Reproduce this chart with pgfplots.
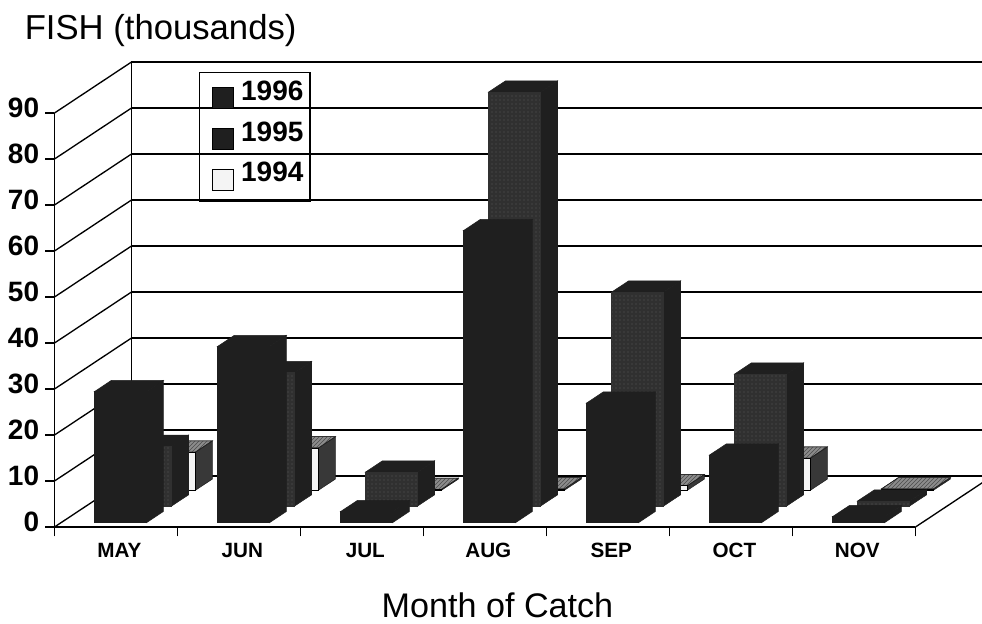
\documentclass[border=0pt]{standalone}
\usepackage{fontspec}
\setmainfont{Liberation Sans}
\usepackage{pgfplots}
\usepackage{pgfplotstable}
\pgfplotsset{compat=1.18}
\usetikzlibrary{patterns}

\definecolor{ink}{HTML}{1F1F1F}
\definecolor{midface}{HTML}{303030}
\definecolor{speck}{HTML}{5A5A5A}
\definecolor{pale}{HTML}{F4F4F4}

% month index, value
\pgfplotstableread{
m v
0 28.5
1 38.3
2 2.4
3 63.5
4 26
5 14.7
6 1.3
}\tabNinetySix
\pgfplotstableread{
m v
0 13
1 29
2 7.4
3 90
4 46.5
5 28.7
6 1.1
}\tabNinetyFive
\pgfplotstableread{
m v
0 8.3
1 9.2
2 0.2
3 0.3
4 1
5 7
6 0.3
}\tabNinetyFour

% oblique depth of the floor, in axis units
\def\dpx{0.626}
\def\dpy{11.09}

\pgfplotsset{
  wall/.style={black, line width=1pt, mark=none, forget plot},
  f96/.style={fill=ink, draw=ink, mark=none, forget plot},
  s96/.style={fill=ink, draw=ink, mark=none, forget plot},
  f95/.style={fill=midface, draw=midface, mark=none, forget plot, postaction={pattern=dots, pattern color=speck}},
  s95/.style={fill=ink, draw=ink, mark=none, forget plot},
  f94/.style={fill=pale, draw=black, mark=none, forget plot},
  t94/.style={fill=black!45, draw=ink, mark=none, forget plot, postaction={pattern=north east lines, pattern color=black!70}},
  s94/.style={fill=black!78, draw=ink, mark=none, forget plot},
  keybox/.style 2 args={legend image code/.code={%
    \filldraw[draw=black, fill=#1] (0pt,-13pt) rectangle (15.75pt,2.75pt);
    \path[draw=none] (-6.5pt,#2) rectangle (19.5pt,0pt);}},
}

% #1 month, #2 depth of the front face, #3 value, #4 front, #5 top, #6 side
\newcommand\oneBar[6]{%
  \pgfmathsetmacro\xa{#1+0.272+#2*\dpx}
  \pgfmathsetmacro\xb{\xa+0.423}
  \pgfmathsetmacro\xc{\xa+0.22*\dpx}
  \pgfmathsetmacro\xd{\xb+0.22*\dpx}
  \pgfmathsetmacro\yf{#2*\dpy}
  \pgfmathsetmacro\yt{#3+#2*\dpy}
  \pgfmathsetmacro\yb{\yf+0.22*\dpy}
  \pgfmathsetmacro\yu{\yt+0.22*\dpy}
  \edef\tmp{%
    \noexpand\addplot[#6] coordinates {(\xb,\yf) (\xd,\yb) (\xd,\yu) (\xb,\yt)} -- cycle;
    \noexpand\addplot[#5] coordinates {(\xa,\yt) (\xb,\yt) (\xd,\yu) (\xc,\yu)} -- cycle;
    \noexpand\addplot[#4] coordinates {(\xa,\yf) (\xb,\yf) (\xb,\yt) (\xa,\yt)} -- cycle;
  }\tmp
}

% #1 table, #2 depth, #3-#5 styles
\newcommand\barRow[5]{%
  \pgfplotsforeachungrouped \r in {0,...,6}{%
    \pgfplotstablegetelem{\r}{m}\of{#1}\let\mm\pgfplotsretval
    \pgfplotstablegetelem{\r}{v}\of{#1}\let\vv\pgfplotsretval
    \oneBar{\mm}{#2}{\vv}{#3}{#4}{#5}%
  }%
}

\begin{document}
\begin{tikzpicture}[x=0.75pt,y=0.75pt]
\path[use as bounding box, clip] (0,0) rectangle (982,-624);
\begin{axis}[
  at={(40.875pt,-395.25pt)}, anchor=south west,
  scale only axis, width=645.75pt, height=310.5pt,
  xmin=0, xmax=7, ymin=0, ymax=90,
  clip=false,
  axis x line=bottom, axis y line=left,
  axis line style={-, line width=1pt},
  tick style={black, line width=1pt},
  major tick length=7pt,
  tick align=outside,
  xtick={0,...,7},
  xticklabels={MAY,JUN,JUL,AUG,SEP,OCT,NOV},
  x tick label as interval=true,
  ytick={0,10,...,90},
  /pgf/number format/assume math mode=true,
  xticklabel style={font=\fontsize{15.5}{16}\selectfont\bfseries, xshift=2.5pt, yshift=-1pt, text height=11.2pt, text depth=0pt},
  yticklabel style={font=\fontsize{21}{21}\selectfont\bfseries, yshift=4.2pt, xshift=-1pt},
  title={FISH (thousands)},
  title style={at={(-0.0348,1.159)}, anchor=base west, font=\fontsize{26}{26}\selectfont, inner sep=0pt},
  xlabel={Month of Catch},
  xlabel style={at={(0.5145,-0.2174)}, anchor=base, font=\fontsize{25.6}{26}\selectfont, inner sep=0pt},
  legend style={at={(0.168,1.099)}, anchor=north west, fill=none, draw=black, line width=1pt,
    font=\fontsize{21}{21}\selectfont\bfseries, inner xsep=3pt, inner ysep=4pt, row sep=7pt},
  legend cell align=left,
]
  % back wall and side wall
  \pgfmathsetmacro\bx{\dpx}
  \pgfplotsforeachungrouped \g in {0,10,...,90}{%
    \pgfmathsetmacro\gb{\g+\dpy}
    \edef\tmp{%
      \noexpand\addplot[wall] coordinates {(0,\g) (\bx,\gb)};
      \noexpand\addplot[wall] coordinates {(\bx,\gb) (7.7,\gb)};
    }\tmp
  }
  \pgfmathsetmacro\gt{90+\dpy}
  \edef\tmp{%
    \noexpand\addplot[wall] coordinates {(\bx,\dpy) (\bx,\gt)};
    \noexpand\addplot[wall] coordinates {(7,0) (7.626,\dpy)};
  }\tmp

  \barRow{\tabNinetyFour}{0.72}{f94}{t94}{s94}
  \barRow{\tabNinetyFive}{0.41}{f95}{s95}{s95}
  \barRow{\tabNinetySix}{0.085}{f96}{s96}{s96}

  \addlegendimage{keybox={ink}{0pt}}
  \addlegendentry{1996}
  \addlegendimage{keybox={ink}{0pt}}
  \addlegendentry{1995}
  \addlegendimage{keybox={pale}{-17pt}}
  \addlegendentry{1994}
\end{axis}
\end{tikzpicture}
\end{document}
